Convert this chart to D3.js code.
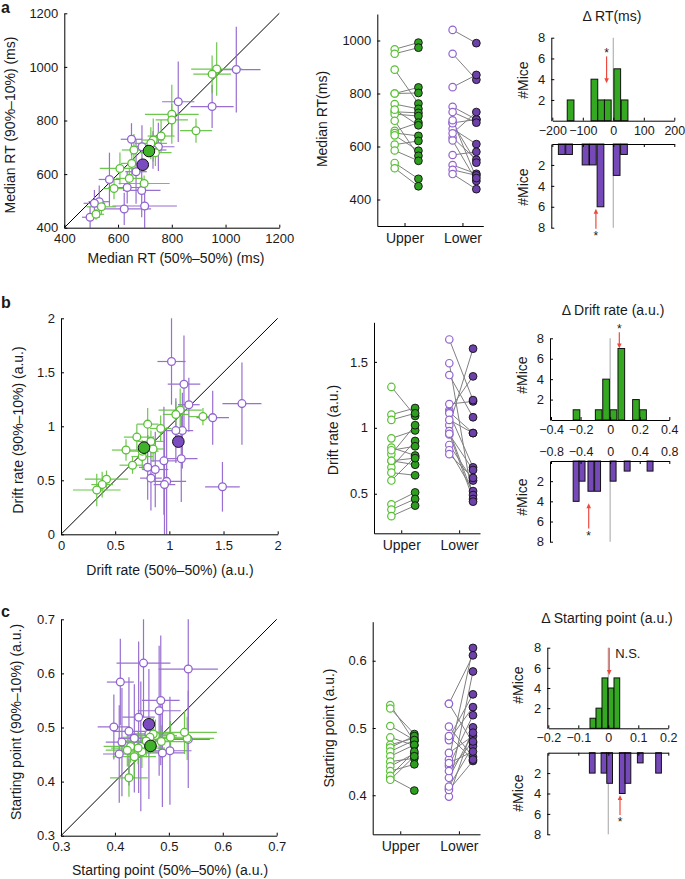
<!DOCTYPE html>
<html><head><meta charset="utf-8">
<script src="https://cdn.jsdelivr.net/npm/d3@7"></script>
<style>
body{margin:0;background:#fff}
svg{display:block}
text{font-family:"Liberation Sans",Arial,Helvetica,sans-serif;fill:#1a1a1a}
</style>
</head><body>
<svg id="fig" width="685" height="879"></svg>
<script>
// ---------------- DATA ----------------
// Panel a: Median RT (ms)
const rtGreenX    = [967, 950, 800, 800, 890, 760, 731, 722, 659, 651, 607, 642, 697, 585, 538, 518, 739];
const rtGreenY    = [992, 973, 823, 802, 762, 742, 727, 715, 690, 640, 621, 584, 565, 546, 478, 450, 680];
const rtGreenXErr = [95, 70, 100, 60, 60, 50, 40, 60, 45, 40, 75, 50, 95, 40, 55, 30, 60];
const rtGreenYErr = [100, 70, 110, 60, 45, 60, 80, 60, 60, 50, 60, 40, 30, 40, 30, 20, 50];
const rtPurpleX    = [1040, 950, 824, 750, 689, 667, 568, 634, 688, 530, 512, 623, 699, 496, 730, 650];
const rtPurpleY    = [990, 852, 870, 702, 702, 609, 580, 550, 539, 497, 491, 470, 481, 439, 690, 730];
const rtPurpleXErr = [90, 80, 60, 60, 40, 40, 40, 70, 70, 40, 40, 100, 120, 30, 50, 40];
const rtPurpleYErr = [160, 80, 150, 90, 80, 120, 100, 60, 100, 60, 50, 60, 100, 40, 70, 60];
const rtGreenMean  = [715, 686];
const rtPurpleMean = [692, 635];
const rtMeanErr    = [12, 15];
const rtTicks      = [400, 600, 800, 1000, 1200];
const rtPairTicks  = [400, 600, 800, 1000];
const rtHistTicks  = [-200, -100, 0, 100, 200];
const rtHistGreenX0   = [-151, -73, -51, -29, 2, 26];
const rtHistGreenN    = [2, 4, 2, 2, 5, 2];
const rtHistPurpleX0  = [-180, -156, -102, -78, -53, 0, 24];
const rtHistPurpleN   = [1, 1, 2, 2, 6, 3, 1];
const rtBinWidth      = 22;
const rtArrowGreen = -22, rtArrowPurple = -57;

// Panel b: Drift rate (a.u.)
const drGreenX    = [1.31, 1.10, 1.06, 0.92, 0.80, 0.70, 0.60, 0.85, 0.75, 0.66, 0.42, 0.38, 0.33, 0.75, 0.83];
const drGreenY    = [1.09, 1.15, 1.11, 0.98, 1.02, 0.90, 0.78, 0.79, 0.72, 0.64, 0.51, 0.46, 0.41, 0.77, 0.86];
const drGreenXErr = [0.13, 0.20, 0.12, 0.10, 0.10, 0.12, 0.13, 0.10, 0.10, 0.12, 0.20, 0.10, 0.22, 0.15, 0.12];
const drGreenYErr = [0.08, 0.20, 0.12, 0.12, 0.15, 0.12, 0.10, 0.12, 0.12, 0.08, 0.08, 0.12, 0.15, 0.10, 0.10];
const drPurpleX    = [1.02, 1.135, 1.18, 1.67, 1.40, 1.12, 1.11, 0.95, 0.87, 0.83, 0.975, 0.955, 1.49, 0.80, 1.06];
const drPurpleY    = [1.60, 1.39, 1.20, 1.21, 1.08, 0.96, 0.70, 0.68, 0.60, 0.52, 0.49, 0.46, 0.44, 0.62, 0.96];
const drPurpleXErr = [0.13, 0.15, 0.10, 0.18, 0.15, 0.10, 0.15, 0.12, 0.12, 0.10, 0.18, 0.10, 0.16, 0.08, 0.10];
const drPurpleYErr = [0.40, 0.45, 0.25, 0.38, 0.25, 0.35, 0.40, 0.50, 0.35, 0.30, 0.50, 0.50, 0.23, 0.30, 0.30];
const drGreenMean  = [0.766, 0.802];
const drPurpleMean = [1.083, 0.858];
const drMeanErr    = [0.03, 0.04];
const drTicks      = [0, 0.5, 1, 1.5, 2];
const drPairTicks  = [0.5, 1, 1.5];
const drHistTicksTop = [-0.4, -0.2, 0, 0.2, 0.4];
const drHistTicksBot = [-0.8, -0.4, 0, 0.4, 0.8];
const drHistGreenX0  = [-0.25, -0.10, -0.05, 0.0, 0.053, 0.152, 0.2];
const drHistGreenN   = [1, 1, 4, 1, 7, 2, 1];
const drHistPurpleX0 = [-0.50, -0.42, -0.30, -0.21, 0.0, 0.19, 0.50];
const drHistPurpleN  = [4, 2, 3, 3, 2, 1, 1];
const drBinWidthTop = 0.045, drBinWidthBot = 0.08;
const drArrowGreen = 0.062, drArrowPurple = -0.29;

// Panel c: Starting point (a.u.)
const spGreenX    = [0.426, 0.534, 0.529, 0.503, 0.486, 0.475, 0.471, 0.465, 0.458, 0.450, 0.443, 0.436, 0.429, 0.423];
const spGreenY    = [0.407, 0.480, 0.491, 0.482, 0.474, 0.485, 0.488, 0.482, 0.475, 0.455, 0.462, 0.446, 0.465, 0.458];
const spGreenXErr = [0.035, 0.05, 0.06, 0.04, 0.05, 0.04, 0.04, 0.05, 0.04, 0.04, 0.05, 0.04, 0.05, 0.04];
const spGreenYErr = [0.035, 0.04, 0.04, 0.03, 0.03, 0.03, 0.03, 0.03, 0.03, 0.03, 0.03, 0.04, 0.03, 0.03];
const spPurpleX    = [0.453, 0.536, 0.410, 0.485, 0.482, 0.444, 0.398, 0.408, 0.502, 0.536, 0.463, 0.426, 0.413, 0.448, 0.436, 0.488];
const spPurpleY    = [0.619, 0.608, 0.584, 0.550, 0.531, 0.519, 0.501, 0.451, 0.457, 0.478, 0.488, 0.493, 0.473, 0.465, 0.480, 0.453];
const spPurpleXErr = [0.05, 0.055, 0.025, 0.035, 0.04, 0.03, 0.03, 0.03, 0.04, 0.04, 0.04, 0.03, 0.03, 0.03, 0.03, 0.04];
const spPurpleYErr = [0.10, 0.12, 0.08, 0.12, 0.12, 0.14, 0.06, 0.09, 0.10, 0.09, 0.12, 0.10, 0.10, 0.12, 0.10, 0.10];
const spGreenMean  = [0.466, 0.466];
const spPurpleMean = [0.463, 0.506];
const spMeanErr    = [0.006, 0.008];
const spTicks      = [0.3, 0.4, 0.5, 0.6, 0.7];
const spPairTicks  = [0.4, 0.5, 0.6];
const spHistTicks  = [-0.2, -0.1, 0, 0.1, 0.2];
const spHistGreenX0  = [-0.061, -0.041, -0.021, 0, 0.019];
const spHistGreenN   = [1, 2, 5, 4, 5];
const spHistPurpleX0 = [-0.063, -0.024, -0.005, 0.037, 0.056, 0.097, 0.158];
const spHistPurpleN  = [2, 2, 3, 4, 3, 1, 2];
const spBinWidth = 0.019;
const spArrowGreen = 0.003, spArrowPurple = 0.039;

const histCountTicks = [2, 4, 6, 8];
const groupLabels = ["Upper", "Lower"];

// ---------------- STYLE ----------------
const C = {
  gOpen: "#58c033", pOpen: "#9163d0",
  gErr: "#5fc23c", pErr: "#8e60cc",
  gFill: "#2e9e1e", pFill: "#6d41a9",
  gMean: "#3fb22a", pMean: "#7b4cc0",
  gBar: "#33a820", pBar: "#7649b9",
  grey: "#808080", zero: "#b3b3b3", red: "#ec4a3f", text: "#1a1a1a"
};
const svg = d3.select("#fig");
const FT = 13, FL = 14;

function styleAxis(g, fs) {
  g.selectAll("path").attr("stroke", "#000").attr("stroke-width", 1);
  g.selectAll("line").attr("stroke", "#000").attr("stroke-width", 1);
  g.selectAll("text").attr("font-size", fs).attr("fill", C.text)
    .attr("font-family", '"Liberation Sans",Arial,sans-serif');
}
function label(x, y, txt, fs, rot, weight) {
  const t = svg.append("text").attr("x", x).attr("y", y).attr("text-anchor", "middle")
    .attr("dominant-baseline", "central").attr("font-size", fs).text(txt);
  if (rot) t.attr("transform", `rotate(-90,${x},${y})`);
  if (weight) t.attr("font-weight", weight);
  return t;
}

// ---------------- SCATTER ----------------
function scatter(o) {
  const x = d3.scaleLinear().domain(o.domain).range([o.left, o.right]);
  const y = d3.scaleLinear().domain(o.domain).range([o.bottom, o.top]);
  const g = svg.append("g");
  g.append("line").attr("x1", x(o.domain[0])).attr("y1", y(o.domain[0]))
    .attr("x2", x(o.domain[1])).attr("y2", y(o.domain[1])).attr("stroke", "#000").attr("stroke-width", 1);
  const series = [
    {X: o.pX, Y: o.pY, XE: o.pXE, YE: o.pYE, col: C.pOpen, err: C.pErr},
    {X: o.gX, Y: o.gY, XE: o.gXE, YE: o.gYE, col: C.gOpen, err: C.gErr}
  ];
  series.forEach(s => {
    const d = s.X.map((v, i) => ({x: v, y: s.Y[i], xe: s.XE[i], ye: s.YE[i]}));
    const e = g.append("g").attr("stroke", s.err).attr("stroke-width", 1.2).attr("opacity", 0.9);
    e.selectAll(".h").data(d).join("line").attr("x1", d => x(d.x - d.xe)).attr("x2", d => x(d.x + d.xe))
      .attr("y1", d => y(d.y)).attr("y2", d => y(d.y));
    e.selectAll(".v").data(d).join("line").attr("x1", d => x(d.x)).attr("x2", d => x(d.x))
      .attr("y1", d => y(Math.max(o.domain[0], d.y - d.ye))).attr("y2", d => y(Math.min(o.domain[1], d.y + d.ye)));
  });
  series.forEach(s => {
    const d = s.X.map((v, i) => ({x: v, y: s.Y[i]}));
    g.append("g").selectAll("circle").data(d).join("circle")
      .attr("cx", d => x(d.x)).attr("cy", d => y(d.y)).attr("r", 3.9)
      .attr("fill", "#fff").attr("stroke", s.col).attr("stroke-width", 1.3);
  });
  [[o.pM, C.pMean], [o.gM, C.gMean]].forEach(([m, col]) => {
    const mg = g.append("g");
    mg.append("line").attr("x1", x(m[0] - o.mE[0])).attr("x2", x(m[0] + o.mE[0])).attr("y1", y(m[1])).attr("y2", y(m[1]))
      .attr("stroke", "#333").attr("stroke-width", 1.2);
    mg.append("line").attr("x1", x(m[0])).attr("x2", x(m[0])).attr("y1", y(m[1] - o.mE[1])).attr("y2", y(m[1] + o.mE[1]))
      .attr("stroke", "#333").attr("stroke-width", 1.2);
    mg.append("circle").attr("cx", x(m[0])).attr("cy", y(m[1])).attr("r", 5.8)
      .attr("fill", col).attr("stroke", "#111").attr("stroke-width", 1);
  });
  const ax = svg.append("g").attr("transform", `translate(0,${o.bottom})`)
    .call(d3.axisBottom(x).tickValues(o.ticks).tickFormat(o.fmt).tickSizeInner(-3).tickSizeOuter(0).tickPadding(6));
  styleAxis(ax, FT);
  const ay = svg.append("g").attr("transform", `translate(${o.left},0)`)
    .call(d3.axisLeft(y).tickValues(o.ticks).tickFormat(o.fmt).tickSizeInner(-3).tickSizeOuter(0).tickPadding(6));
  styleAxis(ay, FT);
  label(o.xl[0], o.xl[1], o.xlab, FL);
  label(o.yl[0], o.yl[1], o.ylab, FL, true);
  svg.append("text").attr("x", o.letter[1]).attr("y", o.letter[2]).attr("font-size", 16)
    .attr("font-weight", "bold").text(o.letter[0]);
}

// ---------------- PAIRED ----------------
function paired(o) {
  const x = d3.scaleLinear().domain([0.53, 2.36]).range([o.axisX, o.xEnd]);
  const y = d3.scaleLinear().domain(o.domain).range([o.bottom, o.top]);
  const g = svg.append("g");
  const offOpen = -0.17, offFill = 0.24;
  const groups = [
    {k: 1, X: o.gX, Y: o.gY, open: C.gOpen, fill: C.gFill},
    {k: 2, X: o.pX, Y: o.pY, open: C.pOpen, fill: C.pFill}
  ];
  groups.forEach(s => {
    const d = s.X.map((v, i) => ({a: v, b: s.Y[i]}));
    g.append("g").selectAll("line").data(d).join("line")
      .attr("x1", x(s.k + offOpen)).attr("x2", x(s.k + offFill))
      .attr("y1", d => y(d.a)).attr("y2", d => y(d.b)).attr("stroke", C.grey).attr("stroke-width", 1);
  });
  groups.forEach(s => {
    g.append("g").selectAll("circle").data(s.X).join("circle")
      .attr("cx", x(s.k + offOpen)).attr("cy", d => y(d)).attr("r", 3.7)
      .attr("fill", "#fff").attr("stroke", s.open).attr("stroke-width", 1.2);
    g.append("g").selectAll("circle").data(s.Y).join("circle")
      .attr("cx", x(s.k + offFill)).attr("cy", d => y(d)).attr("r", 3.9)
      .attr("fill", s.fill).attr("stroke", "#111").attr("stroke-width", 0.9);
  });
  const ax = svg.append("g").attr("transform", `translate(0,${o.bottom})`)
    .call(d3.axisBottom(x).tickValues([1, 2]).tickFormat((d, i) => groupLabels[i]).tickSizeInner(-3).tickSizeOuter(0).tickPadding(7));
  styleAxis(ax, FL);
  const ay = svg.append("g").attr("transform", `translate(${o.axisX},0)`)
    .call(d3.axisLeft(y).tickValues(o.ticks).tickFormat(o.fmt).tickSizeInner(-3).tickSizeOuter(0).tickPadding(6));
  styleAxis(ay, FT);
  label(o.yl[0], o.yl[1], o.ylab, FL, true);
}

// ---------------- HISTOGRAMS ----------------
function arrowDown(g, x, y1, y2) { // head at y2
  const dir = y2 > y1 ? 1 : -1;
  g.append("line").attr("x1", x).attr("x2", x).attr("y1", y1).attr("y2", y2 - dir * 4)
    .attr("stroke", C.red).attr("stroke-width", 1.2);
  g.append("path").attr("d", `M${x - 2.3},${y2 - dir * 5}L${x + 2.3},${y2 - dir * 5}L${x},${y2}Z`).attr("fill", C.red);
}
function hist(o) {
  const xt = d3.scaleLinear().domain(o.domTop).range([o.x0, o.x1]);
  const xb = d3.scaleLinear().domain(o.domBot).range([o.x0, o.x1]);
  const yt = d3.scaleLinear().domain([0, 8]).range([o.t0, o.t8]);
  const yb = d3.scaleLinear().domain([0, 8]).range([o.b0, o.b8]);
  const g = svg.append("g");
  g.append("line").attr("x1", xt(0)).attr("x2", xt(0)).attr("y1", yt(8)).attr("y2", yt(0)).attr("stroke", C.zero).attr("stroke-width", 1.2);
  g.append("line").attr("x1", xb(0)).attr("x2", xb(0)).attr("y1", yb(0)).attr("y2", yb(8)).attr("stroke", C.zero).attr("stroke-width", 1.2);
  const gd = o.gX0.map((v, i) => ({x0: v, n: o.gN[i]}));
  g.append("g").selectAll("rect").data(gd).join("rect")
    .attr("x", d => xt(d.x0)).attr("width", d => xt(d.x0 + o.wTop) - xt(d.x0))
    .attr("y", d => yt(d.n)).attr("height", d => yt(0) - yt(d.n))
    .attr("fill", C.gBar).attr("stroke", "#111").attr("stroke-width", 1);
  const pd = o.pX0.map((v, i) => ({x0: v, n: o.pN[i]}));
  g.append("g").selectAll("rect").data(pd).join("rect")
    .attr("x", d => xb(d.x0)).attr("width", d => xb(d.x0 + o.wBot) - xb(d.x0))
    .attr("y", yb(0)).attr("height", d => yb(d.n) - yb(0))
    .attr("fill", C.pBar).attr("stroke", "#111").attr("stroke-width", 1);
  const fmt = d3.format("~g");
  const axT = svg.append("g").attr("transform", `translate(0,${o.t0})`)
    .call(d3.axisBottom(xt).tickValues(o.ticksTop).tickFormat(fmt).tickSizeInner(-3).tickSizeOuter(0).tickPadding(5));
  styleAxis(axT, 12.5);
  const axB = svg.append("g").attr("transform", `translate(0,${o.b0})`)
    .call(d3.axisTop(xb).tickValues(o.ticksBot || o.ticksTop).tickFormat(o.ticksBot ? fmt : "").tickSizeInner(-3).tickSizeOuter(0).tickPadding(5));
  styleAxis(axB, 12.5);
  const ayT = svg.append("g").attr("transform", `translate(${o.x0 - 1},0)`)
    .call(d3.axisLeft(yt).tickValues(histCountTicks).tickSizeInner(-3).tickSizeOuter(0).tickPadding(6));
  styleAxis(ayT, 13);
  const ayB = svg.append("g").attr("transform", `translate(${o.x0 - 1},0)`)
    .call(d3.axisLeft(yb).tickValues(histCountTicks).tickSizeInner(-3).tickSizeOuter(0).tickPadding(6));
  styleAxis(ayB, 13);
  const ag = svg.append("g");
  arrowDown(ag, xt(o.aTop), yt(o.aTopY[0]), yt(o.aTopY[1]));
  if (o.topNS) {
    ag.append("text").attr("x", xt(o.aTop) + 6).attr("y", yt(o.aTopY[0]) + 10).attr("font-size", 13).text("N.S.");
  } else {
    ag.append("text").attr("x", xt(o.aTop)).attr("y", yt(o.aTopY[0]) + 1).attr("text-anchor", "middle").attr("font-size", 12).text("*");
  }
  arrowDown(ag, xb(o.aBot), yb(o.aBotY[0]), yb(o.aBotY[1]));
  ag.append("text").attr("x", xb(o.aBot)).attr("y", yb(o.aBotY[0]) + 11).attr("text-anchor", "middle").attr("font-size", 12).text("*");
  label(o.title[1], o.title[2], o.title[0], FL);
  label(o.mx, o.my[0], "#Mice", FL, true);
  label(o.mx, o.my[1], "#Mice", FL, true);
}

// ---------------- DRAW ----------------
scatter({domain: [400, 1200], left: 64.3, right: 279.3, top: 13.3, bottom: 227.7, ticks: rtTicks, fmt: d3.format("d"),
  gX: rtGreenX, gY: rtGreenY, gXE: rtGreenXErr, gYE: rtGreenYErr,
  pX: rtPurpleX, pY: rtPurpleY, pXE: rtPurpleXErr, pYE: rtPurpleYErr,
  gM: rtGreenMean, pM: rtPurpleMean, mE: rtMeanErr,
  xlab: "Median RT (50%–50%) (ms)", ylab: "Median RT (90%–10%) (ms)", xl: [176, 258], yl: [10, 125], letter: ["a", 1, 13]});
scatter({domain: [0, 2], left: 61, right: 277.7, top: 318.3, bottom: 534.3, ticks: drTicks, fmt: d3.format("~g"),
  gX: drGreenX, gY: drGreenY, gXE: drGreenXErr, gYE: drGreenYErr,
  pX: drPurpleX, pY: drPurpleY, pXE: drPurpleXErr, pYE: drPurpleYErr,
  gM: drGreenMean, pM: drPurpleMean, mE: drMeanErr,
  xlab: "Drift rate (50%–50%) (a.u.)", ylab: "Drift rate (90%–10%) (a.u.)", xl: [170, 570], yl: [18, 430], letter: ["b", 1, 308]});
scatter({domain: [0.3, 0.7], left: 61, right: 276.7, top: 619.3, bottom: 835.7, ticks: spTicks, fmt: d3.format(".1f"),
  gX: spGreenX, gY: spGreenY, gXE: spGreenXErr, gYE: spGreenYErr,
  pX: spPurpleX, pY: spPurpleY, pXE: spPurpleXErr, pYE: spPurpleYErr,
  gM: spGreenMean, pM: spPurpleMean, mE: spMeanErr,
  xlab: "Starting point (50%–50%) (a.u.)", ylab: "Starting point (90%–10%) (a.u.)", xl: [170, 870], yl: [16, 722], letter: ["c", 1, 617]});

paired({axisX: 377.3, xEnd: 483.3, top: 14, bottom: 226, domain: [300, 1100], ticks: rtPairTicks, fmt: d3.format("d"),
  gX: rtGreenX, gY: rtGreenY, pX: rtPurpleX, pY: rtPurpleY, ylab: "Median RT(ms)", yl: [321.7, 119]});
paired({axisX: 374, xEnd: 480, top: 322.3, bottom: 533.3, domain: [0.2, 1.8], ticks: drPairTicks, fmt: d3.format("~g"),
  gX: drGreenX, gY: drGreenY, pX: drPurpleX, pY: drPurpleY, ylab: "Drift rate (a.u.)", yl: [333, 430]});
paired({axisX: 372.7, xEnd: 480, top: 621.7, bottom: 834.3, domain: [0.342, 0.658], ticks: spPairTicks, fmt: d3.format(".1f"),
  gX: spGreenX, gY: spGreenY, pX: spPurpleX, pY: spPurpleY, ylab: "Starting point (a.u.)", yl: [329, 728]});

hist({x0: 552.3, x1: 674.3, domTop: [-200, 200], domBot: [-200, 200], t0: 120.7, t8: 37.7, b0: 144, b8: 227.7,
  ticksTop: rtHistTicks, gX0: rtHistGreenX0, gN: rtHistGreenN, pX0: rtHistPurpleX0, pN: rtHistPurpleN,
  wTop: rtBinWidth, wBot: rtBinWidth, aTop: rtArrowGreen, aTopY: [6.2, 3.6], aBot: rtArrowPurple, aBotY: [8.1, 6.2],
  title: ["Δ RT(ms)", 612, 16], mx: 523, my: [80, 187]});
hist({x0: 551, x1: 669.3, domTop: [-0.4, 0.4], domBot: [-0.8, 0.8], t0: 420, t8: 338.3, b0: 461, b8: 541.7,
  ticksTop: drHistTicksTop, ticksBot: drHistTicksBot, gX0: drHistGreenX0, gN: drHistGreenN, pX0: drHistPurpleX0, pN: drHistPurpleN,
  wTop: drBinWidthTop, wBot: drBinWidthBot, aTop: drArrowGreen, aTopY: [8.6, 7.0], aBot: drArrowPurple, aBotY: [6.7, 4.2],
  title: ["Δ Drift rate (a.u.)", 613, 310], mx: 521.7, my: [375, 497]});
hist({x0: 548.3, x1: 668.3, domTop: [-0.2, 0.2], domBot: [-0.2, 0.2], t0: 728.3, t8: 647.7, b0: 752.7, b8: 834.3,
  ticksTop: spHistTicks, gX0: spHistGreenX0, gN: spHistGreenN, pX0: spHistPurpleX0, pN: spHistPurpleN,
  wTop: spBinWidth, wBot: spBinWidth, aTop: spArrowGreen, aTopY: [8.0, 5.3], topNS: true, aBot: spArrowPurple, aBotY: [6.1, 4.15],
  title: ["Δ Starting point (a.u.)", 607, 618], mx: 518, my: [685, 793]});
</script>
</body></html>
